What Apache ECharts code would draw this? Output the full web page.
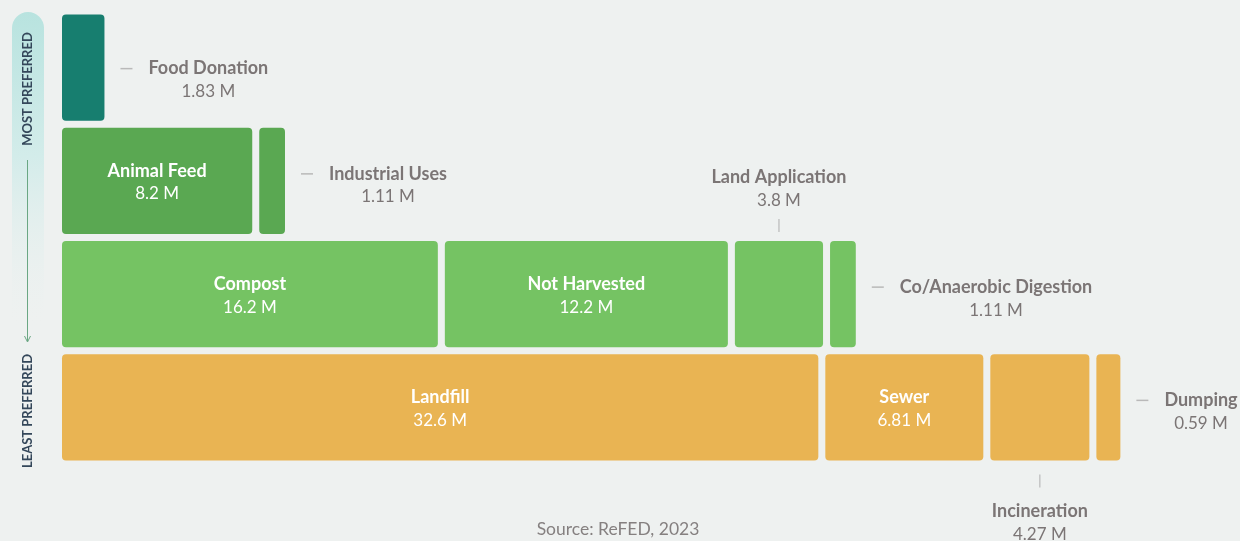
<!DOCTYPE html>
<html>
<head>
<meta charset="utf-8">
<script src="https://cdn.jsdelivr.net/npm/echarts@6/dist/echarts.min.js"></script>
<style>
html,body{margin:0;padding:0;background:#eef1f0;}
#chart{width:1240px;height:541px;}
</style>
</head>
<body>
<div id="chart"></div>
<script>
// ---- data ----
const categories = ['Food Donation', 'Animal Feed', 'Industrial Uses', 'Compost', 'Not Harvested', 'Land Application', 'Co/Anaerobic Digestion', 'Landfill', 'Sewer', 'Incineration', 'Dumping'];
const values = [1.83, 8.2, 1.11, 16.2, 12.2, 3.8, 1.11, 32.6, 6.81, 4.27, 0.59];
const tiers = [0, 1, 1, 2, 2, 2, 2, 3, 3, 3, 3];
const tierLabels = ['0', '1', '2', '3'];
const topLabel = 'MOST PREFERRED';
const bottomLabel = 'LEAST PREFERRED';
const sourceText = 'Source: ReFED, 2023';

// ---- styles ----
const tierColors = ['#177e6f', '#5aa852', '#75c363', '#e9b453'];
const BG = '#eef1f0';
const GAP = 7;
const MINW = 24;
const FONT = 'Lato, "Open Sans", sans-serif';
const nameFont = 'bold 18px ' + FONT;
const valFont = '17px ' + FONT;
const outColor = '#7b7575';

const measureCtx = document.createElement('canvas').getContext('2d');
function textW(t, f) { measureCtx.font = f; return measureCtx.measureText(t).width; }
function fmt(v) { return v + ' M'; }

// build items from data
const items = [];
const cum = {}, cnt = {}, total = {};
tiers.forEach(t => { total[t] = (total[t] || 0) + 1; });
categories.forEach((c, i) => {
  const t = tiers[i];
  const s = cum[t] || 0;
  const k = cnt[t] || 0;
  items.push([t, s, values[i], k, i, k === total[t] - 1 ? 1 : 0]);
  cum[t] = s + values[i];
  cnt[t] = k + 1;
});

function txt(text, x, y, font, fill, align) {
  return {
    type: 'text',
    style: { text: text, x: x, y: y, font: font, fill: fill, align: align || 'center', verticalAlign: 'middle', textAlign: align || 'center', textVerticalAlign: 'middle' }
  };
}

function renderItem(params, api) {
  const t = api.value(0), s = api.value(1), v = api.value(2), k = api.value(3), i = api.value(4), last = api.value(5);
  const p = api.coord([s, t]);
  const band = api.size([0, 1])[1];
  const h = band * 0.936;
  const w = Math.max(api.size([v, 0])[0], MINW);
  const x = p[0] + k * GAP;
  const cy = p[1];
  const y = cy - h / 2;
  const name = categories[i];
  const val = fmt(values[i]);
  const children = [{
    type: 'rect',
    shape: { x: x, y: y, width: w, height: h, r: 4 },
    style: { fill: tierColors[t] }
  }];
  const cx = x + w / 2;
  if (w > 150) {
    children.push(txt(name, cx, cy - 10, nameFont, '#ffffff'));
    children.push(txt(val, cx, cy + 13, valFont, '#ffffff'));
  } else if (last) {
    const dx = x + w + 16;
    const ny = (t === 0) ? cy + 1 : cy - 7;
    children.push({ type: 'line', shape: { x1: dx, y1: ny, x2: dx + 12, y2: ny }, style: { stroke: '#b9b9b9', lineWidth: 1.5 } });
    const left = x + w + 44;
    const c = left + textW(name, nameFont) / 2;
    children.push(txt(name, c, ny, nameFont, outColor));
    children.push(txt(val, c, ny + 23, valFont, outColor));
  } else if (t === 2) {
    children.push({ type: 'line', shape: { x1: cx, y1: y - 22, x2: cx, y2: y - 9 }, style: { stroke: '#b9b9b9', lineWidth: 1.2 } });
    children.push(txt(name, cx, y - 64, nameFont, outColor));
    children.push(txt(val, cx, y - 41, valFont, outColor));
  } else {
    const b = y + h;
    children.push({ type: 'line', shape: { x1: cx, y1: b + 14, x2: cx, y2: b + 27 }, style: { stroke: '#b9b9b9', lineWidth: 1.2 } });
    children.push(txt(name, cx, b + 51, nameFont, outColor));
    children.push(txt(val, cx, b + 74, valFont, outColor));
  }
  return { type: 'group', children: children };
}

const chart = echarts.init(document.getElementById('chart'), null, { renderer: 'canvas' });
chart.setOption({
  backgroundColor: BG,
  animation: false,
  grid: { left: 62, width: 1160, top: 11, height: 453 },
  xAxis: { type: 'value', min: 0, max: 50, show: false },
  yAxis: { type: 'category', data: tierLabels, inverse: true, show: false },
  series: [{
    type: 'custom',
    renderItem: renderItem,
    encode: { x: [1, 2], y: 0 },
    data: items,
    clip: false
  }],
  graphic: [
    {
      type: 'rect', left: 12, top: 12, z: 0,
      shape: { width: 32, height: 320, r: 16 },
      style: {
        fill: new echarts.graphic.LinearGradient(0, 0, 0, 1, [
          { offset: 0, color: '#b8e3df' },
          { offset: 0.45, color: '#d3ecea' },
          { offset: 1, color: 'rgba(238,241,240,0)' }
        ])
      }
    },
    {
      type: 'text', x: 28, y: 89, rotation: Math.PI / 2,
      style: { text: topLabel, font: 'bold 13px ' + FONT, fill: '#34475a', align: 'center', verticalAlign: 'middle', textAlign: 'center', textVerticalAlign: 'middle' }
    },
    {
      type: 'line', shape: { x1: 27.5, y1: 160, x2: 27.5, y2: 341 },
      style: { stroke: '#6aa783', lineWidth: 1 }
    },
    {
      type: 'polyline', shape: { points: [[24.5, 336], [27.5, 342], [30.5, 336]] },
      style: { stroke: '#6aa783', lineWidth: 1, fill: null }
    },
    {
      type: 'text', x: 28, y: 411, rotation: Math.PI / 2,
      style: { text: bottomLabel, font: 'bold 13px ' + FONT, fill: '#34475a', align: 'center', verticalAlign: 'middle', textAlign: 'center', textVerticalAlign: 'middle' }
    },
    {
      type: 'text', x: 618, y: 529,
      style: { text: sourceText, font: '17.5px ' + FONT, fill: '#858080', align: 'center', verticalAlign: 'middle', textAlign: 'center', textVerticalAlign: 'middle' }
    }
  ]
});
</script>
</body>
</html>
